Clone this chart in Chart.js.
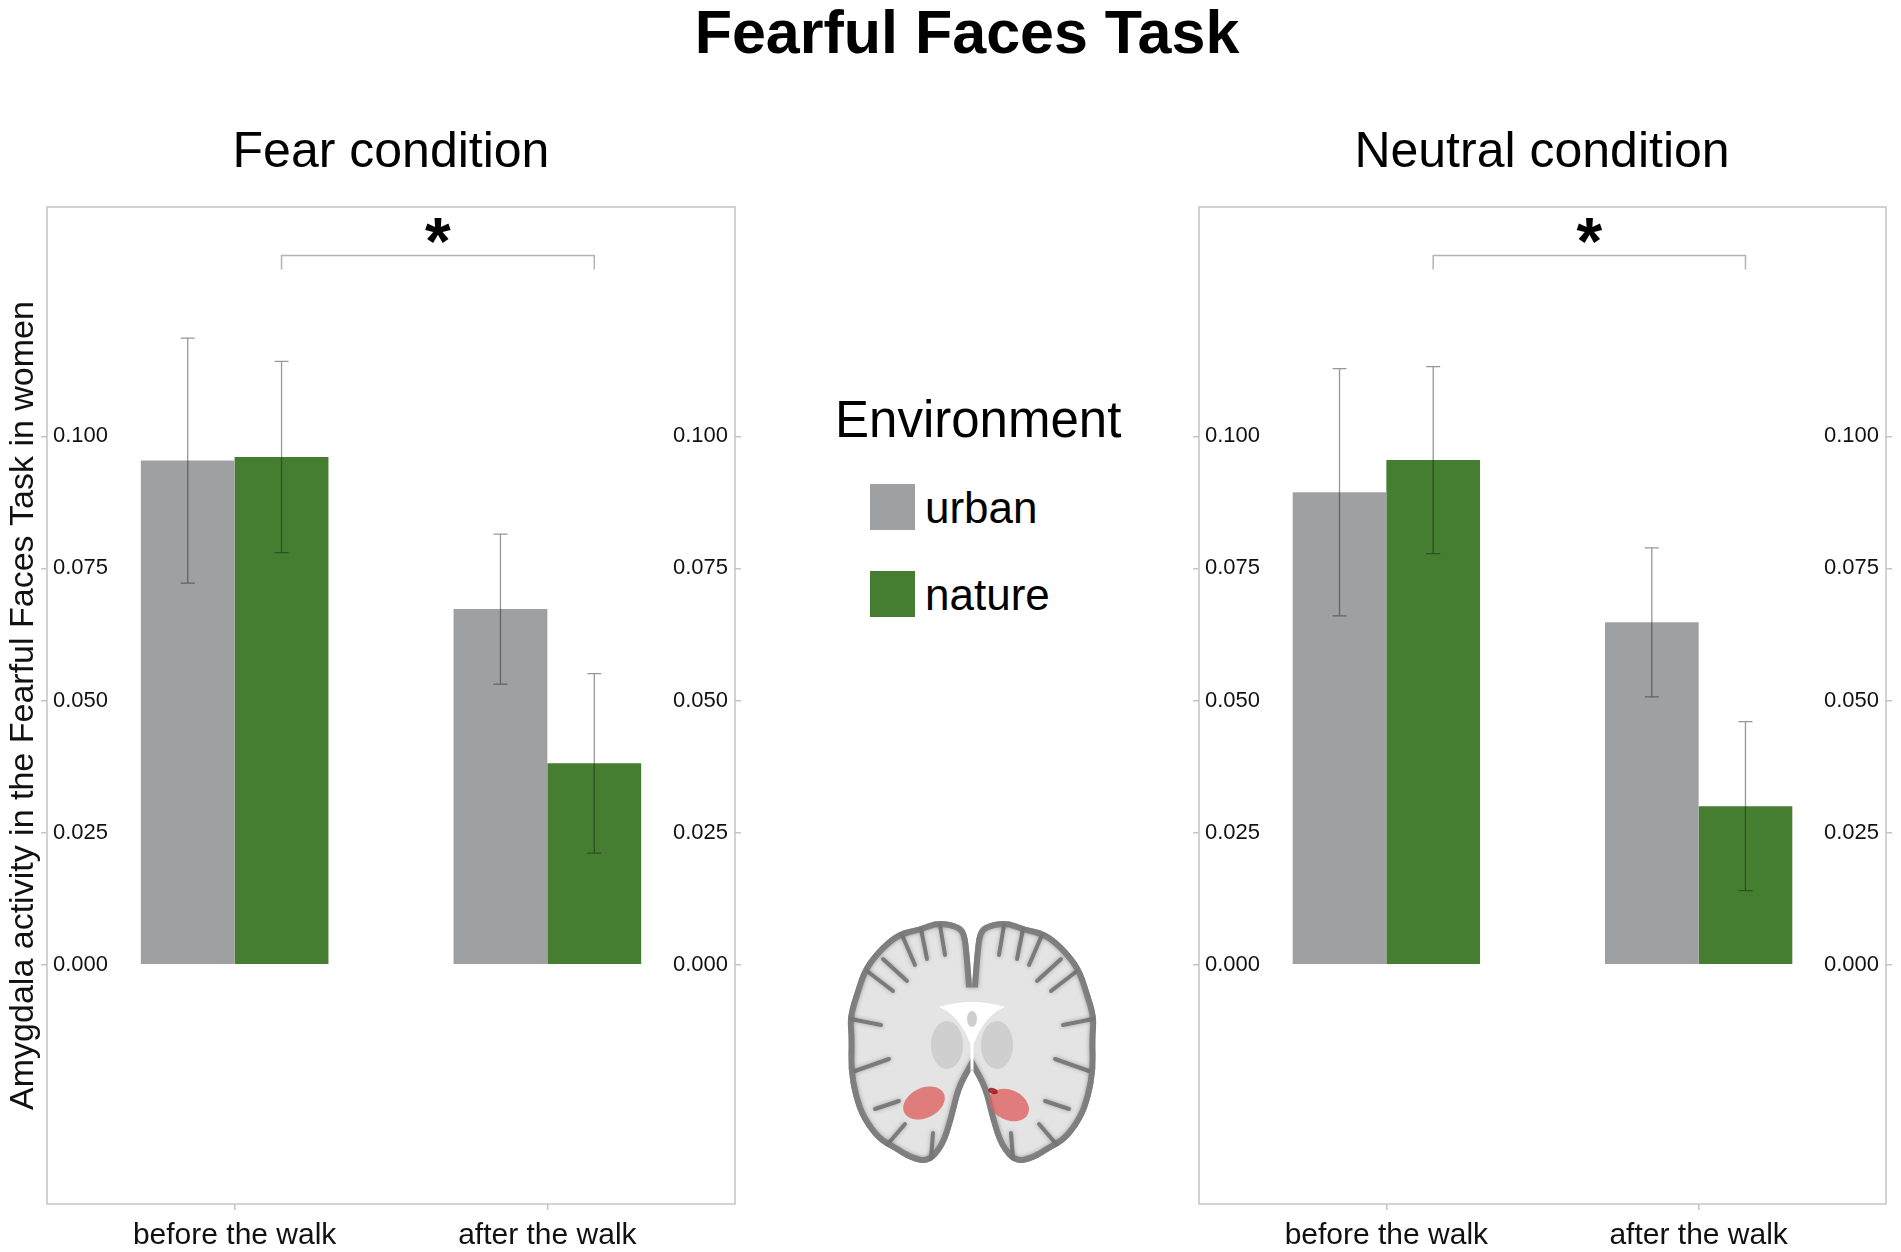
<!DOCTYPE html>
<html>
<head>
<meta charset="utf-8">
<script src="https://cdn.jsdelivr.net/npm/chart.js@4.4.1/dist/chart.umd.min.js"></script>
<style>
  body { margin: 0; width: 1901px; height: 1252px; background: #fff; position: relative; overflow: hidden;
         font-family: "Liberation Sans", Arial, sans-serif; color: #000; }
  .txt { position: absolute; line-height: 1; white-space: nowrap; }
  .c { transform: translate(-50%, -50%); }
  canvas { position: absolute; top: 0; }
  .swatch { position: absolute; width: 45px; height: 46px; }
</style>
</head>
<body>
<div class="txt c" style="left:967px;top:32px;font-size:61px;font-weight:bold">Fearful Faces Task</div>
<div class="txt c" style="left:391px;top:150px;font-size:50px">Fear condition</div>
<div class="txt c" style="left:1542px;top:150px;font-size:50px">Neutral condition</div>
<div class="txt" style="left:835px;top:419px;font-size:51px;transform:translateY(-50%)">Environment</div>
<div id="legend"></div>
<canvas id="brain" width="250" height="246" style="left:847px;top:919px"></canvas>
<canvas id="fear" width="760" height="1252" style="left:0"></canvas>
<canvas id="neutral" width="741" height="1252" style="left:1160px"></canvas>

<script>
const phases = ["before the walk", "after the walk"];
const environments = ["urban", "nature"];
const yTicks = [0, 0.025, 0.05, 0.075, 0.1];

// means and standard errors
const fearUrban = [0.0954, 0.0673];
const fearNature = [0.0961, 0.0381];
const fearUrbanErr = [0.0232, 0.0142];
const fearNatureErr = [0.0181, 0.0170];

const neutralUrban = [0.0894, 0.0648];
const neutralNature = [0.0955, 0.0300];
const neutralUrbanErr = [0.0234, 0.0141];
const neutralNatureErr = [0.0177, 0.0160];

const urbanColor = "#9fa0a2";
const natureColor = "#457d31";
const frameColor = "#c4c4c4";
const fontFamily = "'Liberation Sans', Arial, sans-serif";

// legend in the middle
const legend = document.getElementById("legend");
[urbanColor, natureColor].forEach((col, i) => {
  const box = document.createElement("div");
  box.className = "swatch";
  box.style.left = "870px";
  box.style.top = (484 + i * 87) + "px";
  box.style.background = col;
  legend.appendChild(box);
  const lab = document.createElement("div");
  lab.className = "txt";
  lab.style.cssText = "left:925px;font-size:44px;transform:translateY(-50%);top:" + (508 + i * 87) + "px";
  lab.textContent = environments[i];
  legend.appendChild(lab);
});

// grey box round the plot area
const frame = {
  id: "frame",
  beforeDatasetsDraw(chart) {
    const a = chart.chartArea, ctx = chart.ctx;
    ctx.save();
    ctx.strokeStyle = frameColor;
    ctx.lineWidth = 1.5;
    ctx.strokeRect(a.left, a.top, a.right - a.left, a.bottom - a.top);
    ctx.restore();
  }
};

const errorBars = {
  id: "errorBars",
  afterDatasetsDraw(chart) {
    const ctx = chart.ctx, y = chart.scales.y;
    ctx.save();
    ctx.strokeStyle = "rgba(25,25,25,0.45)";
    ctx.lineWidth = 1.3;
    chart.data.datasets.forEach((ds, i) => {
      chart.getDatasetMeta(i).data.forEach((bar, j) => {
        const v = ds.data[j].y, e = ds.err[j];
        const top = y.getPixelForValue(v + e), bot = y.getPixelForValue(v - e);
        ctx.beginPath();
        ctx.moveTo(bar.x, top); ctx.lineTo(bar.x, bot);
        ctx.moveTo(bar.x - 7, top); ctx.lineTo(bar.x + 7, top);
        ctx.moveTo(bar.x - 7, bot); ctx.lineTo(bar.x + 7, bot);
        ctx.stroke();
      });
    });
    ctx.restore();
  }
};

// significance bracket between the two nature bars
const bracket = {
  id: "bracket",
  afterDatasetsDraw(chart, args, opts) {
    const ctx = chart.ctx, y = chart.scales.y;
    const bars = chart.getDatasetMeta(1).data;
    const x1 = bars[0].x, x2 = bars[1].x;
    const yl = y.getPixelForValue(opts.level);
    ctx.save();
    ctx.strokeStyle = "#b4b4b4";
    ctx.lineWidth = 1.5;
    ctx.beginPath();
    ctx.moveTo(x1, yl + 14); ctx.lineTo(x1, yl); ctx.lineTo(x2, yl); ctx.lineTo(x2, yl + 14);
    ctx.stroke();
    ctx.fillStyle = "#000";
    ctx.font = "bold 66px " + fontFamily;
    ctx.textAlign = "center";
    ctx.textBaseline = "middle";
    ctx.fillText(opts.mark, (x1 + x2) / 2, y.getPixelForValue(opts.markLevel) + 12);
    ctx.restore();
  }
};

function valueAxis(position, width, labelPad, extra) {
  return Object.assign({
    position: position,
    min: -0.0453,
    max: 0.1434,
    afterBuildTicks: a => { a.ticks = yTicks.map(v => ({ value: v })); },
    afterFit: a => { a.width = width; },
    ticks: { mirror: true, padding: labelPad, color: "#111", font: { family: fontFamily, size: 22 },
             callback: v => v.toFixed(3) },
    grid: { drawOnChartArea: false, drawTicks: true, tickLength: 6, color: frameColor, lineWidth: 1.5 },
    border: { display: false }
  }, extra || {});
}

function makeChart(id, urban, nature, urbanErr, natureErr, cfg) {
  return new Chart(document.getElementById(id), {
    type: "bar",
    data: {
      datasets: [
        { label: environments[0], data: phases.map((p, i) => ({ x: i + 1, y: urban[i] })), err: urbanErr,
          backgroundColor: urbanColor, categoryPercentage: 0.6, barPercentage: 1 },
        { label: environments[1], data: phases.map((p, i) => ({ x: i + 1, y: nature[i] })), err: natureErr,
          backgroundColor: natureColor, categoryPercentage: 0.6, barPercentage: 1 }
      ]
    },
    options: {
      responsive: false,
      animation: false,
      layout: { padding: cfg.padding },
      plugins: {
        legend: { display: false },
        tooltip: { enabled: false },
        bracket: { level: 0.1342, markLevel: 0.1384, mark: "*" }
      },
      scales: {
        x: {
          type: "linear",
          min: 0.4,
          max: 2.6,
          offset: false,
          afterBuildTicks: a => { a.ticks = phases.map((p, i) => ({ value: i + 1 })); },
          afterFit: a => { a.height = 48; },
          ticks: { callback: (v, i) => phases[i], color: "#111", padding: 8, maxRotation: 0, autoSkip: false,
                   font: { family: fontFamily, size: 30 } },
          grid: { drawOnChartArea: false, drawTicks: true, tickLength: 6, color: frameColor, lineWidth: 1.5, offset: false },
          border: { display: false }
        },
        y: valueAxis("left", cfg.leftWidth, 6, { title: cfg.yTitle }),
        // mirrored labels on the right sit at axis.left + padding, so a negative pad pulls them inside
        y2: valueAxis("right", 8, -7)
      }
    },
    plugins: [frame, errorBars, bracket]
  });
}

makeChart("fear", fearUrban, fearNature, fearUrbanErr, fearNatureErr, {
  padding: { left: 0, right: 17, top: 207, bottom: 0 },
  leftWidth: 47,
  yTitle: { display: true, text: "Amygdala activity in the Fearful Faces Task in women", color: "#111",
            font: { family: fontFamily, size: 34 }, padding: { top: 3, bottom: 0 } }
});

makeChart("neutral", neutralUrban, neutralNature, neutralUrbanErr, neutralNatureErr, {
  padding: { left: 31, right: 7, top: 207, bottom: 0 },
  leftWidth: 8,
  yTitle: { display: false }
});

// simple coronal brain slice with the amygdala marked
function drawBrain() {
  const g = document.getElementById("brain").getContext("2d");
  const half = [[125,150],[114,170],[107,200],[98,228],[82,246],[62,241],[48,232],[30,222],[14,200],[6,178],
                [1,150],[2,120],[0,98],[8,72],[16,48],[34,26],[52,12],[72,8],[90,1],[110,4],[120,12],[123,40],[125,68]];
  const pts = half.concat(half.slice().reverse().map(p => [250 - p[0], p[1]]));
  const mid = (a, b) => [(a[0] + b[0]) / 2, (a[1] + b[1]) / 2];
  function outline() {
    g.beginPath();
    const s = mid(pts[pts.length - 1], pts[0]);
    g.moveTo(s[0], s[1]);
    pts.forEach((p, i) => {
      const m = mid(p, pts[(i + 1) % pts.length]);
      g.quadraticCurveTo(p[0], p[1], m[0], m[1]);
    });
    g.closePath();
  }
  g.save();
  outline();
  g.clip();
  g.fillStyle = "#e4e4e4";
  g.fillRect(0, 0, 250, 246);
  // basal ganglia
  g.fillStyle = "rgba(175,175,175,0.4)";
  [[100, 126], [150, 126]].forEach(c => { g.beginPath(); g.ellipse(c[0], c[1], 16, 24, 0, 0, Math.PI * 2); g.fill(); });
  // sulci
  const sulci = [[[20,52],[46,72]], [[55,16],[68,46]], [[93,6],[98,36]], [[4,100],[34,106]], [[8,152],[42,140]],
                 [[40,226],[58,205]], [[84,240],[86,214]], [[28,190],[52,182]], [[36,40],[60,62]], [[74,10],[80,40]]];
  g.strokeStyle = "rgba(100,100,100,0.75)";
  g.lineWidth = 4;
  g.lineCap = "round";
  g.shadowColor = "rgba(90,90,90,0.6)";
  g.shadowBlur = 4;
  sulci.forEach(s => {
    [s, s.map(p => [250 - p[0], p[1]])].forEach(q => {
      g.beginPath(); g.moveTo(q[0][0], q[0][1]); g.lineTo(q[1][0], q[1][1]); g.stroke();
    });
  });
  // cortical rim
  outline();
  g.lineWidth = 12;
  g.strokeStyle = "rgba(120,120,120,0.85)";
  g.stroke();
  g.shadowBlur = 0;
  // ventricles
  g.fillStyle = "#fff";
  g.beginPath();
  g.moveTo(92, 88);
  g.quadraticCurveTo(125, 78, 158, 88);
  g.quadraticCurveTo(138, 96, 127, 124);
  g.lineTo(123, 124);
  g.quadraticCurveTo(112, 96, 92, 88);
  g.closePath();
  g.fill();
  g.fillStyle = "#cfcfcf";
  g.beginPath(); g.ellipse(125, 100, 5, 8, 0, 0, Math.PI * 2); g.fill();
  g.strokeStyle = "#fff";
  g.lineWidth = 3;
  g.beginPath(); g.moveTo(125, 122); g.lineTo(125, 152); g.stroke();
  // amygdala
  g.fillStyle = "rgba(222,95,95,0.78)";
  g.beginPath(); g.ellipse(77, 184, 22, 15, -0.45, 0, Math.PI * 2); g.fill();
  g.beginPath(); g.ellipse(162, 186, 21, 15, 0.45, 0, Math.PI * 2); g.fill();
  g.fillStyle = "rgba(160,20,20,0.85)";
  g.beginPath(); g.ellipse(146, 172, 5, 3, 0.3, 0, Math.PI * 2); g.fill();
  g.restore();
}
drawBrain();
</script>
</body>
</html>
